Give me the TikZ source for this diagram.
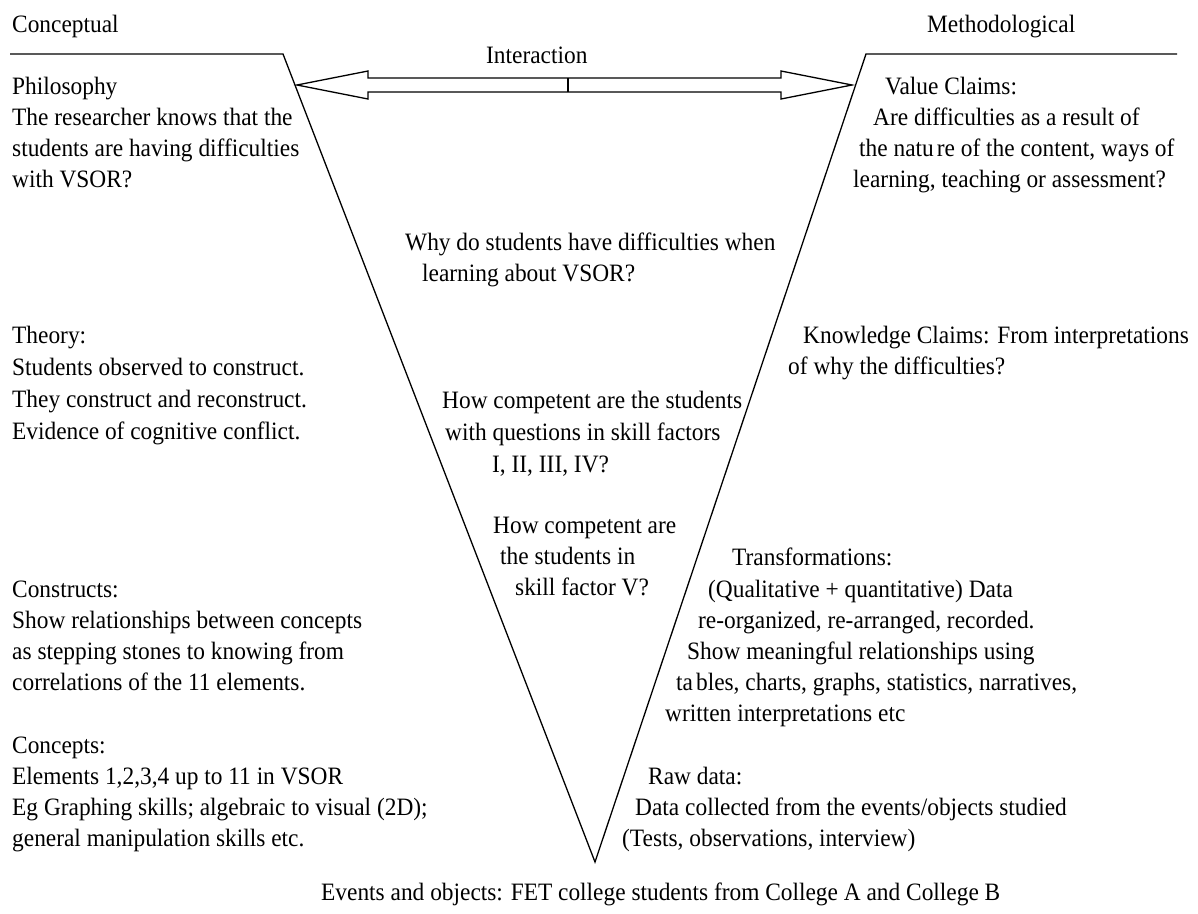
\documentclass[tikz,border=0pt]{standalone}
\usepackage{fontspec}
\setmainfont{Liberation Serif}[FakeStretch=0.935]
\usepackage{tikz}

\begin{document}
\begin{tikzpicture}[x=1pt,y=-1pt]
      \tikzset { txt/.style = { anchor=base west, inner sep=0pt, font=\fontsize{25}{31}\selectfont } }
      \tikzset { vee/.style = { line width=1.3pt, line join=miter } }
      \tikzset { arrowbox/.style = { line width=1.3pt, fill=white, line join=miter } }

      \useasboundingbox (0,0) rectangle (1198,913);

      % the V and the two top rules
      \coordinate (lend) at (10,54);
      \coordinate (ltop) at (283,54);
      \coordinate (tip) at (595,862);
      \coordinate (rtop) at (866,54);
      \coordinate (rend) at (1177,54);
      \draw[vee] (lend) -- (ltop) -- (tip) -- (rtop) -- (rend);

      % interaction arrow
      \draw[arrowbox] (297,85) -- (368,71) -- (368,78) -- (781,78) -- (781,71) -- (852,85)
            -- (781,99) -- (781,92) -- (368,92) -- (368,99) -- cycle;
      \draw[line width=1.3pt] (568,78) -- (568,92);

      \node[txt] (conc) at (12,32) {Conceptual};
      \node[txt] (meth) at (927,32) {Methodological};
      \node[txt] (inter) at (486,63) {Interaction};

      % left side
      \node[txt] (phil1) at (12,94) {Philosophy};
      \node[txt] (phil2) at (12,125) {The researcher knows that the};
      \node[txt] (phil3) at (12,156) {students are having difficulties};
      \node[txt] (phil4) at (12,187) {with VSOR?};

      \node[txt] (theo1) at (12,343) {Theory:};
      \node[txt] (theo2) at (12,375) {Students observed to construct.};
      \node[txt] (theo3) at (12,407) {They construct and reconstruct.};
      \node[txt] (theo4) at (12,439) {Evidence of cognitive conflict.};

      \node[txt] (cons1) at (12,597) {Constructs:};
      \node[txt] (cons2) at (12,628) {Show relationships between concepts};
      \node[txt] (cons3) at (12,659) {as stepping stones to knowing from};
      \node[txt] (cons4) at (12,690) {correlations of the 11 elements.};

      \node[txt] (cept1) at (12,753) {Concepts:};
      \node[txt] (cept2) at (12,784) {Elements 1,2,3,4 up to 11 in VSOR};
      \node[txt] (cept3) at (12,815) {Eg Graphing skills; algebraic to visual (2D);};
      \node[txt] (cept4) at (12,846) {general manipulation skills etc.};

      % centre questions
      \node[txt] (why1) at (405,250) {Why do students have difficulties when};
      \node[txt] (why2) at (422,281) {learning about VSOR?};

      \node[txt] (how1) at (442,408) {How competent are the students};
      \node[txt] (how2) at (445,440) {with questions in skill factors};
      \node[txt] (how3) at (492,472) {I, II, III, IV?};

      \node[txt] (hfv1) at (493,533) {How competent are};
      \node[txt] (hfv2) at (500,564) {the students in};
      \node[txt] (hfv3) at (515,595) {skill factor V?};

      % right side
      \node[txt] (val1) at (885,94) {Value Claims:};
      \node[txt] (val2) at (873,125) {Are difficulties as a result of};
      \node[txt] (val3) at (859,156) {the natu\kern3pt re of the content, ways of};
      \node[txt] (val4) at (853,187) {learning, teaching or assessment?};

      \node[txt] (know1) at (803,343) {Knowledge Claims: From interpretations};
      \node[txt] (know2) at (788,374) {of why the difficulties?};

      \node[txt] (tra1) at (732,565) {Transformations:};
      \node[txt] (tra2) at (708,597) {(Qualitative + quantitative) Data};
      \node[txt] (tra3) at (698,628) {re-organized, re-arranged, recorded.};
      \node[txt] (tra4) at (687,659) {Show meaningful relationships using};
      \node[txt] (tra5) at (676,690) {ta\kern3pt bles, charts, graphs, statistics, narratives,};
      \node[txt] (tra6) at (665,721) {written interpretations etc};

      \node[txt] (raw1) at (648,784) {Raw data:};
      \node[txt] (raw2) at (635,815) {Data collected from the events/objects studied};
      \node[txt] (raw3) at (622,846) {(Tests, observations, interview)};

      \node[txt] (events) at (321,900) {Events and objects: FET college students from College A and College B};

    \end{tikzpicture}
\end{document}
